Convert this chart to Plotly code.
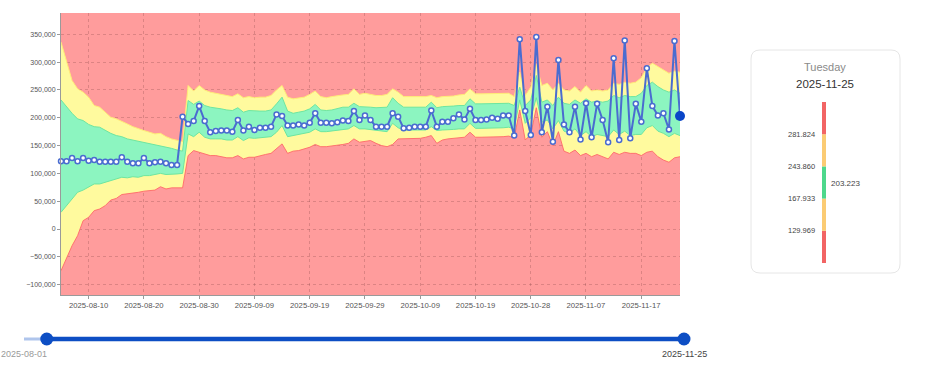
import numpy as np
import pandas as pd
import plotly.graph_objects as go

# ---------------- data (thousands) ----------------
start_date = "2025-08-05"

values_k = [121.7, 121.7, 127.7, 121.7, 127.7, 122.9, 124.1, 121.1, 121.1, 121.1,
            121.1, 128.9, 121.1, 118.1, 118.1, 127.7, 118.1, 119.9, 121.1, 118.1,
            115.2, 115.2, 202, 189, 194, 221, 194, 174, 176, 177,
            177, 175, 196, 177, 184, 178, 182, 182, 184, 206,
            203, 186, 186, 188, 186, 191, 208, 191, 191, 190,
            192, 195, 194, 212, 196, 204, 196, 184, 184, 184,
            208, 202, 181, 182, 184, 184, 184, 213, 184, 193,
            193, 199, 206, 197, 216, 196, 196, 197, 200, 198,
            204, 204, 168, 341, 212, 169, 345, 174, 220, 157,
            304, 188, 174, 220, 161, 226, 165, 225, 196, 156,
            307, 160, 339, 163, 225, 193, 289, 221, 204, 208,
            179, 338, 203.223]

upper_outer_k = [336, 303, 267, 252, 246, 237, 222, 219, 210, 201,
                 198, 194, 189, 184, 180, 177, 174, 171, 172, 166,
                 162, 159, 157, 258, 248, 258, 250, 246, 244, 242,
                 240, 238, 243, 236, 238, 236, 237, 237, 240, 250,
                 258, 237, 234, 235, 237, 242, 248, 238, 236, 238,
                 240, 241, 242, 252, 242, 244, 242, 240, 240, 242,
                 252, 246, 238, 238, 237, 237, 238, 240, 236, 238,
                 238, 239, 241, 242, 252, 243, 243, 243, 244, 244,
                 244, 244, 238, 282, 240, 255, 296, 258, 262, 250,
                 262, 250, 248, 256, 246, 258, 248, 250, 248, 250,
                 262, 260, 264, 262, 264, 272, 290, 298, 292, 286,
                 280, 284, 281.824]

upper_inner_k = [232, 219, 208, 198, 195, 188, 184, 183, 177, 172,
                 168, 166, 162, 160, 158, 156, 153, 152, 150, 147,
                 145, 142, 140, 231, 224, 230, 222, 219, 218, 216,
                 214, 213, 218, 210, 213, 212, 212, 212, 214, 225,
                 237, 212, 208, 210, 212, 216, 224, 214, 213, 214,
                 216, 219, 219, 226, 220, 220, 219, 218, 218, 219,
                 236, 226, 219, 219, 218, 218, 219, 228, 218, 220,
                 220, 221, 222, 222, 234, 225, 225, 225, 226, 226,
                 226, 226, 222, 255, 222, 232, 276, 228, 232, 222,
                 237, 226, 224, 232, 226, 234, 228, 230, 228, 230,
                 240, 236, 240, 238, 238, 244, 258, 264, 256, 250,
                 246, 250, 243.860]

lower_inner_k = [30, 42, 54, 66, 70, 75, 81, 81, 84, 88,
                 90, 93, 92, 94, 93, 96, 96, 98, 100, 98,
                 98, 99, 100, 171, 166, 174, 165, 162, 162, 162,
                 160, 160, 166, 159, 164, 163, 164, 165, 166, 174,
                 186, 166, 168, 170, 171, 174, 180, 175, 175, 176,
                 177, 178, 180, 186, 180, 180, 179, 178, 176, 175,
                 190, 182, 178, 178, 177, 177, 178, 184, 177, 178,
                 178, 179, 180, 180, 190, 181, 181, 181, 181, 182,
                 182, 183, 180, 232, 190, 200, 236, 192, 196, 180,
                 195, 176, 172, 180, 168, 175, 166, 170, 168, 166,
                 178, 170, 176, 168, 170, 170, 182, 186, 176, 172,
                 166, 172, 167.933]

lower_outer_k = [-75, -51, -30, -12, 15, 21, 33, 36, 42, 52,
                 55, 62, 63, 64, 66, 68, 69, 70, 76, 72,
                 74, 74, 74, 132, 141, 138, 135, 132, 132, 130,
                 128, 128, 132, 126, 129, 129, 132, 134, 136, 144,
                 153, 136, 140, 141, 144, 147, 152, 148, 148, 149,
                 150, 152, 154, 162, 156, 158, 159, 154, 150, 148,
                 152, 162, 162, 162, 163, 163, 165, 168, 154, 160,
                 162, 163, 164, 165, 174, 165, 165, 165, 165, 166,
                 166, 167, 164, 214, 160, 170, 218, 165, 175, 150,
                 175, 140, 136, 142, 132, 136, 130, 134, 130, 126,
                 138, 134, 138, 136, 136, 132, 138, 140, 130, 124,
                 120, 128, 129.969]

x_tick_labels = ["2025-08-10", "2025-08-20", "2025-08-30", "2025-09-09",
                 "2025-09-19", "2025-09-29", "2025-10-09", "2025-10-19",
                 "2025-10-28", "2025-11-07", "2025-11-17"]

slider_min = "2025-08-01"
slider_max = "2025-11-25"
sel_start = "2025-08-05"
sel_end = "2025-11-25"

# ---------------- prep ----------------
dates = pd.date_range(start_date, periods=len(values_k), freq="D")
vals = np.array(values_k) * 1000
u2 = np.array(upper_outer_k) * 1000
u1 = np.array(upper_inner_k) * 1000
l1 = np.array(lower_inner_k) * 1000
l2 = np.array(lower_outer_k) * 1000

# ticks shown after the DST change fall one hour before midnight
tick_pos = []
for lab in x_tick_labels:
    t = pd.Timestamp(lab)
    if t > pd.Timestamp("2025-10-26"):
        t = t + pd.Timedelta(hours=23)
    tick_pos.append(t)

RED_BG = "#FF9C9C"
YELLOW = "#FFFA9E"
GREEN = "#8CF5C0"
LINE = "#4A6CD0"
DOT = "#0A45C8"
FONT = "Liberation Sans, Arial, sans-serif"

W, H = 936, 375
def px(x):
    return x / W
def py(y):
    return 1 - y / H

fig = go.Figure()

# red background of the main plot only
fig.add_shape(type="rect", xref="x domain", yref="y domain", x0=0, x1=1, y0=0, y1=1,
              fillcolor=RED_BG, line=dict(width=0), layer="below")

# bands
fig.add_trace(go.Scatter(x=dates, y=l2, mode="lines",
                         line=dict(color="rgba(255,105,105,0.9)", width=1),
                         hoverinfo="skip", showlegend=False))
fig.add_trace(go.Scatter(x=dates, y=u2, mode="lines", fill="tonexty",
                         fillcolor=YELLOW,
                         line=dict(color="rgba(255,235,120,1)", width=1),
                         hoverinfo="skip", showlegend=False))
fig.add_trace(go.Scatter(x=dates, y=l1, mode="lines",
                         line=dict(color="rgba(110,230,160,1)", width=1),
                         hoverinfo="skip", showlegend=False))
fig.add_trace(go.Scatter(x=dates, y=u1, mode="lines", fill="tonexty",
                         fillcolor=GREEN,
                         line=dict(color="rgba(110,230,160,1)", width=1),
                         hoverinfo="skip", showlegend=False))
# value line
fig.add_trace(go.Scatter(x=dates, y=vals, mode="lines+markers",
                         line=dict(color=LINE, width=2),
                         marker=dict(size=5, color="white",
                                     line=dict(color=LINE, width=1.5)),
                         showlegend=False, cliponaxis=False))
fig.add_trace(go.Scatter(x=dates[-1:], y=vals[-1:], mode="markers",
                         marker=dict(size=10, color=DOT),
                         showlegend=False, cliponaxis=False))

# ---------------- gauge (right panel) ----------------
thr = [l2[-1], l1[-1], u1[-1], u2[-1]]
seg_colors = ["#F26464", "#FBCB73", "#4DD88C", "#FBCB73", "#F26464"]
for k, c in enumerate(seg_colors):
    fig.add_trace(go.Scatter(x=[0, 0], y=[k, k + 1], mode="lines",
                             line=dict(color=c, width=4),
                             xaxis="x2", yaxis="y2", hoverinfo="skip",
                             showlegend=False, cliponaxis=False))

def fmt(v):
    return f"{v:,.0f}".replace(",", ".")

for k, v in enumerate(thr):
    fig.add_annotation(x=px(817), xref="paper", y=k + 1, yref="y2",
                       text=fmt(v), showarrow=False, xanchor="right",
                       yanchor="middle", font=dict(size=7.5, color="#444", family=FONT))
cur = vals[-1]
cur_pos = 2 + (cur - l1[-1]) / (u1[-1] - l1[-1])
fig.add_annotation(x=px(829), xref="paper", y=cur_pos, yref="y2",
                   text=fmt(cur), showarrow=False, xanchor="left",
                   yanchor="middle", font=dict(size=8, color="#444", family=FONT))

last_day = dates[-1]
fig.add_annotation(x=px(825), xref="paper", y=py(67), yref="paper",
                   text=last_day.strftime("%A"), showarrow=False,
                   xanchor="center", yanchor="middle",
                   font=dict(size=11, color="#8a8a8a", family=FONT))
fig.add_annotation(x=px(825), xref="paper", y=py(84), yref="paper",
                   text=last_day.strftime("%Y-%m-%d"), showarrow=False,
                   xanchor="center", yanchor="middle",
                   font=dict(size=11.5, color="#333", family=FONT))

# panel rounded rect
x0, x1, y0, y1 = px(751), px(900), py(273), py(50)
rx, ry = 9 / W, 9 / H
path = (f"M {x0+rx},{y1} L {x1-rx},{y1} Q {x1},{y1} {x1},{y1-ry} "
        f"L {x1},{y0+ry} Q {x1},{y0} {x1-rx},{y0} L {x0+rx},{y0} "
        f"Q {x0},{y0} {x0},{y0+ry} L {x0},{y1-ry} Q {x0},{y1} {x0+rx},{y1} Z")
fig.add_shape(type="path", path=path, xref="paper", yref="paper",
              line=dict(color="#E6E6E6", width=1), fillcolor="white", layer="below")

# ---------------- range slider ----------------
fig.add_trace(go.Scatter(x=[slider_min, sel_start], y=[0, 0], mode="lines",
                         line=dict(color="#AFC5EC", width=3),
                         xaxis="x3", yaxis="y3", hoverinfo="skip",
                         showlegend=False, cliponaxis=False))
fig.add_trace(go.Scatter(x=[sel_start, sel_end], y=[0, 0], mode="lines",
                         line=dict(color="#0D4EC4", width=4.5),
                         xaxis="x3", yaxis="y3", hoverinfo="skip",
                         showlegend=False, cliponaxis=False))
fig.add_trace(go.Scatter(x=[sel_start, sel_end], y=[0, 0], mode="markers",
                         marker=dict(size=13, color="#0D4EC4"),
                         xaxis="x3", yaxis="y3", hoverinfo="skip",
                         showlegend=False, cliponaxis=False))
fig.add_annotation(x=slider_min, xref="x3", y=py(354), yref="paper",
                   text=slider_min, showarrow=False,
                   xanchor="center", yanchor="middle",
                   font=dict(size=9, color="#9a9a9a", family=FONT))
fig.add_annotation(x=sel_end, xref="x3", y=py(354), yref="paper",
                   text=sel_end, showarrow=False,
                   xanchor="center", yanchor="middle",
                   font=dict(size=9, color="#444", family=FONT))

# ---------------- layout ----------------
grid = "rgba(130,70,70,0.28)"
fig.update_layout(
    width=W, height=H,
    margin=dict(l=0, r=0, t=0, b=0),
    paper_bgcolor="white",
    plot_bgcolor="rgba(0,0,0,0)",
    font=dict(family=FONT, color="#555"),
    showlegend=False,
    xaxis=dict(domain=[px(61), px(680)], range=[dates[0], dates[-1]],
               type="date", tickvals=tick_pos, ticktext=x_tick_labels,
               tickfont=dict(size=7.7, color="#555"),
               showgrid=True, gridcolor=grid, griddash="3px,3px", gridwidth=1,
               showline=True, linecolor="#9a9a9a", linewidth=1,
               ticks="outside", ticklen=3, tickcolor="#9a9a9a",
               zeroline=False, automargin=False),
    yaxis=dict(domain=[py(295), py(13)], range=[-118600, 388300],
               dtick=50000, tick0=0, tickformat=",",
               tickfont=dict(size=7, color="#555"),
               showgrid=True, gridcolor=grid, griddash="3px,3px", gridwidth=1,
               showline=True, linecolor="#9a9a9a", linewidth=1,
               ticks="outside", ticklen=3, tickcolor="#9a9a9a",
               zeroline=False, automargin=False),
    xaxis2=dict(domain=[px(800), px(848)], range=[-1, 1], visible=False,
                fixedrange=True, anchor="y2"),
    yaxis2=dict(domain=[py(263), py(102)], range=[0, 5], visible=False,
                fixedrange=True, anchor="x2"),
    xaxis3=dict(domain=[px(24), px(684)], range=[slider_min, slider_max],
                type="date", visible=False, anchor="y3"),
    yaxis3=dict(domain=[py(349), py(329)], range=[-1, 1], visible=False,
                anchor="x3"),
)

fig.write_html("out.html",
               config={"displayModeBar": False},
               post_script="document.body.style.margin='0';document.body.style.overflow='hidden';")
